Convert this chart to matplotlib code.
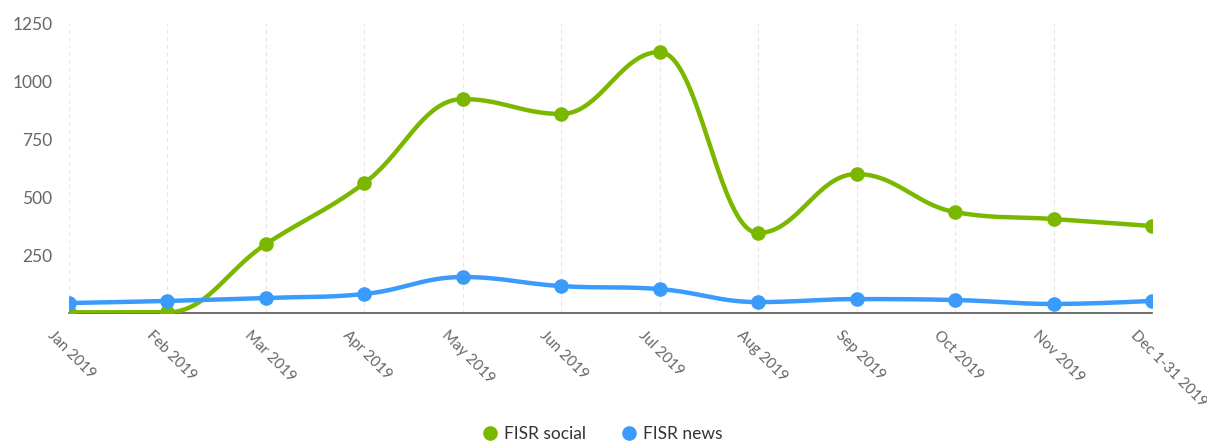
import numpy as np
import matplotlib
matplotlib.use("Agg")
import matplotlib.pyplot as plt
from matplotlib.transforms import ScaledTranslation

categories = ["Jan 2019", "Feb 2019", "Mar 2019", "Apr 2019", "May 2019", "Jun 2019",
              "Jul 2019", "Aug 2019", "Sep 2019", "Oct 2019", "Nov 2019", "Dec 1-31 2019"]
fisr_social = [3, 3, 297, 560, 922, 858, 1125, 345, 599, 435, 405, 375]
fisr_news = [43, 52, 65, 82, 155, 116, 103, 47, 60, 56, 39, 52]
y_ticks = [250, 500, 750, 1000, 1250]

GREEN = "#7ab800"
BLUE = "#3a9bfa"

plt.rcParams['font.family'] = ['Lato', 'DejaVu Sans']


def spline(xs, ys, smoothing=1.5, n=40):
    """Highcharts-style spline through the points, returns dense curve."""
    xs = np.asarray(xs, float)
    ys = np.asarray(ys, float)
    N = len(xs)
    left = [None] * N
    right = [None] * N
    denom = smoothing + 1
    for i in range(1, N - 1):
        px, py = xs[i], ys[i]
        lx, ly = xs[i - 1], ys[i - 1]
        nx, ny = xs[i + 1], ys[i + 1]
        lcx = (smoothing * px + lx) / denom
        lcy = (smoothing * py + ly) / denom
        rcx = (smoothing * px + nx) / denom
        rcy = (smoothing * py + ny) / denom
        if rcx != lcx:
            corr = ((rcy - lcy) * (rcx - px)) / (rcx - lcx) + py - rcy
            lcy += corr
            rcy += corr
        if lcy > ly and lcy > py:
            lcy = max(ly, py)
            rcy = 2 * py - lcy
        elif lcy < ly and lcy < py:
            lcy = min(ly, py)
            rcy = 2 * py - lcy
        if rcy > ny and rcy > py:
            rcy = max(ny, py)
            lcy = 2 * py - rcy
        elif rcy < ny and rcy < py:
            rcy = min(ny, py)
            lcy = 2 * py - rcy
        left[i] = (lcx, lcy)
        right[i] = (rcx, rcy)
    outx, outy = [], []
    t = np.linspace(0, 1, n)
    for i in range(N - 1):
        p0 = np.array([xs[i], ys[i]])
        p3 = np.array([xs[i + 1], ys[i + 1]])
        p1 = np.array(right[i]) if right[i] is not None else p0
        p2 = np.array(left[i + 1]) if left[i + 1] is not None else p3
        b = ((1 - t) ** 3)[:, None] * p0 + (3 * (1 - t) ** 2 * t)[:, None] * p1 \
            + (3 * (1 - t) * t ** 2)[:, None] * p2 + (t ** 3)[:, None] * p3
        outx.extend(b[:, 0])
        outy.extend(b[:, 1])
    return np.array(outx), np.array(outy)


fig = plt.figure(figsize=(12.07, 4.44), dpi=100)
ax = fig.add_axes([69 / 1207, 1 - 313 / 444, (1152 - 69) / 1207, (313 - 23) / 444])

x = np.arange(len(categories))
for vals, col, lab in [(fisr_social, GREEN, "FISR social"), (fisr_news, BLUE, "FISR news")]:
    sx, sy = spline(x, vals)
    ax.plot(sx, sy, color=col, lw=3.2, solid_capstyle='round', zorder=3)
    ax.plot(x, vals, 'o', color=col, ms=9.5, zorder=4, label=lab)

ax.set_xlim(0, len(categories) - 1)
ax.set_ylim(0, 1250)
ax.set_yticks(y_ticks)
ax.set_yticklabels([str(v) for v in y_ticks])
ax.set_xticks(x)
ax.set_xticklabels([])

off = ScaledTranslation(-14 / 100, -15 / 100, fig.dpi_scale_trans)
for i, c in enumerate(categories):
    ax.text(i, 0, c, transform=ax.get_xaxis_transform() + off, rotation=-45,
            rotation_mode='anchor', ha='left', va='top', fontsize=10.8,
            color='#666666', clip_on=False)

ax.tick_params(axis='both', length=0, labelsize=12.5, labelcolor='#666666')
ax.tick_params(axis='y', pad=12)
ax.grid(axis='x', color='#e6e6e6', lw=0.8, ls=(0, (4, 3)))
ax.set_axisbelow(True)
for s in ['top', 'right', 'left']:
    ax.spines[s].set_visible(False)
ax.spines['bottom'].set_color('#555555')
ax.spines['bottom'].set_linewidth(1.2)
ax.spines['bottom'].set_zorder(2)
ax.patch.set_alpha(0)

fig.legend(loc='center', bbox_to_anchor=(602 / 1207, 1 - 434 / 444), ncol=2, frameon=False,
           fontsize=12.5, handletextpad=0.3, columnspacing=2.0, markerscale=1.0,
           labelcolor='#333333', handlelength=1.0)

fig.savefig("out.png", dpi=100)
